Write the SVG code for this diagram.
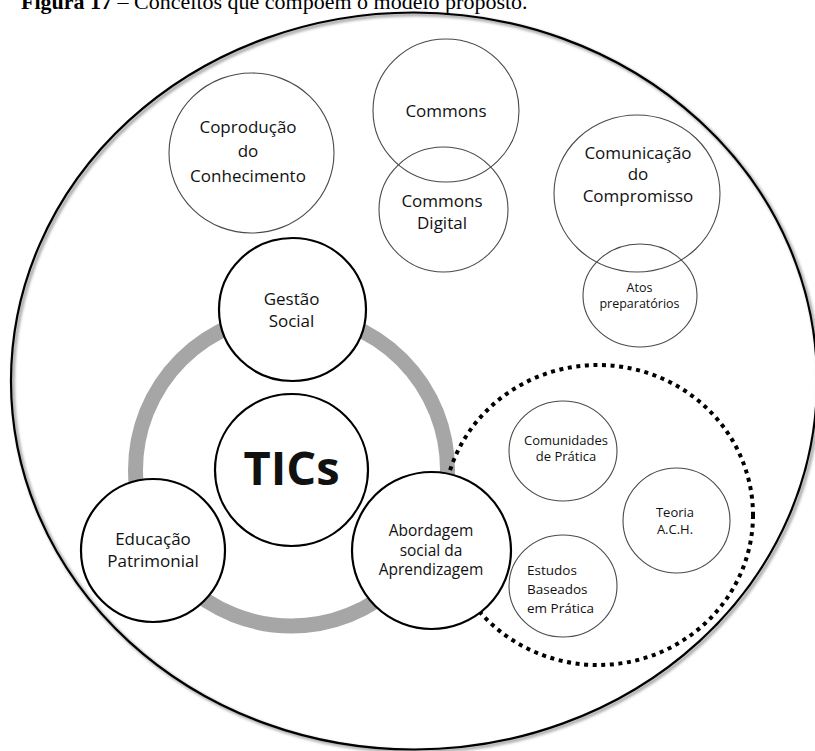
<svg xmlns="http://www.w3.org/2000/svg" width="815" height="751" viewBox="0 0 815 751">
  <defs>
    <filter id="soft" x="-5%" y="-5%" width="110%" height="110%">
      <feGaussianBlur stdDeviation="1.6"/>
    </filter>
  </defs>
  <style>
    .caption { font-family: "Liberation Serif", "Times New Roman", serif; font-size: 22px; fill: #000; }
    .caption .bold { font-weight: bold; }
    .outer { fill: none; stroke: #000; stroke-width: 2.2; }
    .outer-shadow { fill: none; stroke: #9a9a9a; stroke-width: 3; filter: url(#soft); }
    .ring { fill: none; stroke: #a6a6a6; stroke-width: 15; }
    .dotted { fill: none; stroke: #000; stroke-width: 4; stroke-dasharray: 4 4.6; }
    .thin { fill: none; stroke: #4a4a4a; stroke-width: 1.1; }
    .thick { fill: #fff; stroke: #000; stroke-width: 2.2; }
    text.lbl { font-family: "Open Sans", "Noto Sans", sans-serif; fill: #111; text-anchor: middle; }
    .s17 { font-size: 17px; }
    .s155 { font-size: 15.5px; }
    .s13 { font-size: 13px; }
    .s125 { font-size: 12.5px; }
    .big { font-size: 47px; font-weight: bold; fill: #000; }
  </style>

  <!-- caption -->
  <text class="caption" x="21" y="9"><tspan class="bold">Figura 17</tspan> – Conceitos que compõem o modelo proposto.</text>

  <!-- enclosing model boundary -->
  <g id="boundary">
    <ellipse class="outer-shadow" cx="416" cy="383" rx="403" ry="368.5"/>
    <ellipse class="outer" cx="414" cy="381" rx="403" ry="368.5"/>
  </g>

  <!-- ring joining the three pillars around TICs -->
  <g id="connectors">
    <circle class="ring" cx="291.5" cy="470" r="156"/>
  </g>

  <!-- learning cluster boundary -->
  <g id="learning-cluster">
    <ellipse class="dotted" cx="598" cy="515" rx="155" ry="150"/>
  </g>

  <g id="coproducao">
    <ellipse class="thin" cx="251.5" cy="153" rx="82.5" ry="80"/>
    <text class="lbl s17" x="248" y="133">Coprodução</text>
    <text class="lbl s17" x="248" y="157">do</text>
    <text class="lbl s17" x="248" y="182">Conhecimento</text>
  </g>

  <g id="commons">
    <ellipse class="thin" cx="446" cy="110.5" rx="73" ry="71.5"/>
    <text class="lbl s17" x="446" y="117">Commons</text>
  </g>

  <g id="commons-digital">
    <ellipse class="thin" cx="443.5" cy="209.5" rx="64.5" ry="62.5"/>
    <text class="lbl s17" x="442" y="207">Commons</text>
    <text class="lbl s17" x="442" y="229">Digital</text>
  </g>

  <g id="comunicacao">
    <ellipse class="thin" cx="637" cy="193.5" rx="83" ry="78.5"/>
    <text class="lbl s17" x="638" y="159">Comunicação</text>
    <text class="lbl s17" x="638" y="180">do</text>
    <text class="lbl s17" x="638" y="202">Compromisso</text>
  </g>

  <g id="atos">
    <ellipse class="thin" cx="640" cy="295.5" rx="57" ry="51.5"/>
    <text class="lbl s125" x="639.5" y="292">Atos</text>
    <text class="lbl s125" x="639.5" y="308">preparatórios</text>
  </g>

  <g id="comunidades">
    <ellipse class="thin" cx="563" cy="451" rx="54" ry="50"/>
    <text class="lbl s13" x="566" y="445">Comunidades</text>
    <text class="lbl s13" x="566" y="461">de Prática</text>
  </g>

  <g id="teoria">
    <ellipse class="thin" cx="676.5" cy="520.5" rx="53.5" ry="52.5"/>
    <text class="lbl s13" x="675" y="517">Teoria</text>
    <text class="lbl s13" x="675" y="534">A.C.H.</text>
  </g>

  <g id="estudos">
    <ellipse class="thin" cx="563" cy="586" rx="54" ry="51"/>
    <text class="lbl" style="font-size:13.5px;text-anchor:start" x="527" y="575">Estudos</text>
    <text class="lbl" style="font-size:13.5px;text-anchor:start" x="527" y="594">Baseados</text>
    <text class="lbl" style="font-size:13.5px;text-anchor:start" x="527" y="613">em Prática</text>
  </g>

  <g id="gestao">
    <ellipse class="thick" cx="292.5" cy="309.5" rx="73.5" ry="71.5"/>
    <text class="lbl s17" x="291.5" y="305">Gestão</text>
    <text class="lbl s17" x="291.5" y="327">Social</text>
  </g>

  <g id="tics">
    <ellipse class="thick" cx="291.5" cy="470" rx="76.5" ry="76"/>
    <text class="lbl big" x="291.5" y="485">TICs</text>
  </g>

  <g id="educacao">
    <ellipse class="thick" cx="153" cy="550.5" rx="72" ry="71.5"/>
    <text class="lbl s17" x="153" y="545">Educação</text>
    <text class="lbl s17" x="153" y="567">Patrimonial</text>
  </g>

  <g id="abordagem">
    <ellipse class="thick" cx="431.5" cy="550.5" rx="79.5" ry="78.5"/>
    <text class="lbl s155" x="431" y="536">Abordagem</text>
    <text class="lbl s155" x="431" y="556">social da</text>
    <text class="lbl s155" x="431" y="575">Aprendizagem</text>
  </g>
</svg>
